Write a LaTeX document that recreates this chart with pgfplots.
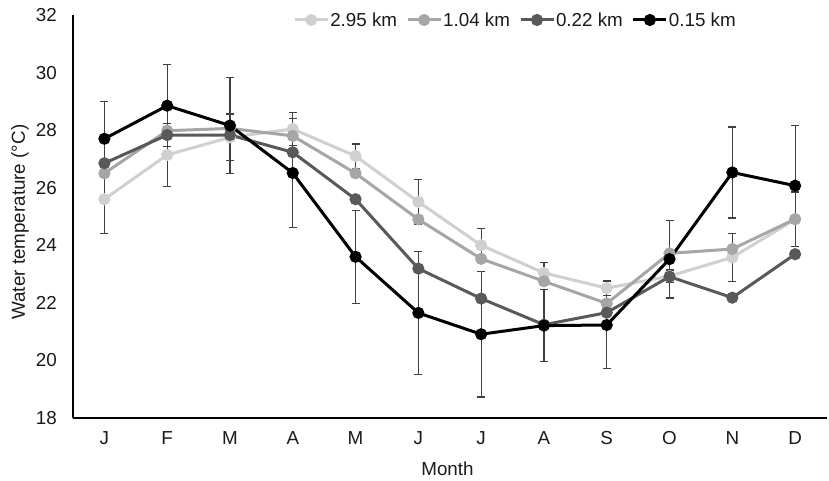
\documentclass[border=0pt]{standalone}
\usepackage{fontspec}
\setmainfont{Liberation Sans}
\usepackage{pgfplots}
\pgfplotsset{compat=1.18}
\definecolor{cA}{HTML}{D0D0D0}
\definecolor{cB}{HTML}{A6A6A6}
\definecolor{cC}{HTML}{595959}
\definecolor{cD}{HTML}{000000}
\definecolor{errc}{HTML}{404040}
\definecolor{txt}{HTML}{1A1A1A}
\newcommand{\ff}{\fontsize{18.8}{22}\selectfont}
\begin{document}
\begin{tikzpicture}
\begin{axis}[
  scale only axis, width=753.5pt, height=403pt,
  xmin=-0.5, xmax=11.5, ymin=18, ymax=32,
  axis x line*=bottom, axis y line*=left,
  axis line style={black, line width=1.2pt},
  xtick={0,...,11},
  xticklabels={J,F,M,A,M,J,J,A,S,O,N,D},
  ytick={18,20,...,32},
  major tick length=0pt,
  /pgf/number format/assume math mode=true,
  tick label style={font=\ff, text=txt},
  yticklabel style={inner sep=0pt, xshift=-16pt},
  xticklabel style={inner sep=0pt, yshift=-13pt},
  xlabel={Month},
  ylabel={Water temperature (°C)},
  label style={font=\ff, text=txt},
  xlabel style={at={(axis description cs:0.497,-0.1084)}, anchor=north, inner sep=0pt},
  ylabel style={at={(axis description cs:-0.0584,0.486)}, anchor=south, inner sep=0pt},
  legend style={at={(axis description cs:0.5866,0.9876)}, anchor=center, draw=none, fill=none,
    font=\ff, text=txt, legend columns=4, nodes={inner sep=1pt},
    /tikz/every even column/.append style={column sep=8pt}},
  legend cell align=left,
  legend image code/.code={\draw[mark repeat=2,mark phase=2,#1] plot coordinates {(0pt,0pt) (16.5pt,0pt) (33pt,0pt)};},
  every axis plot/.append style={line width=3pt, mark=*, mark size=4.5pt, mark options={solid}},
]
\addplot[color=cA, mark options={fill=cA, draw=cA},
  error bars/.cd, y dir=both, y explicit,
  error bar style={errc, line width=1.2pt},
  error mark options={errc, rotate=90, mark size=4pt, line width=1.2pt}]
  table[x=x, y=y, y error=e] {
x y e
0 25.6 1.2
1 27.14 1.1
2 27.75 0.81
3 28.04 0.58
4 27.1 0.42
5 25.51 0.77
6 24.0 0.58
7 23.04 0.35
8 22.51 0.26
9 22.93 0.21
10 23.58 0.84
11 24.9 0.95
};
\addlegendentry{2.95 km}
\addplot[color=cB, mark options={fill=cB, draw=cB}] table[x=x, y=y] {
x y
0 26.5
1 27.98
2 28.06
3 27.8
4 26.5
5 24.9
6 23.53
7 22.75
8 21.98
9 23.72
10 23.87
11 24.91
};
\addlegendentry{1.04 km}
\addplot[color=cC, mark options={fill=cC, draw=cC}] table[x=x, y=y] {
x y
0 26.85
1 27.83
2 27.83
3 27.23
4 25.6
5 23.19
6 22.15
7 21.24
8 21.66
9 22.91
10 22.18
11 23.69
};
\addlegendentry{0.22 km}
\addplot[color=cD, mark options={fill=cD, draw=cD},
  error bars/.cd, y dir=both, y explicit,
  error bar style={errc, line width=1.2pt},
  error mark options={errc, rotate=90, mark size=4pt, line width=1.2pt}]
  table[x=x, y=y, y error=e] {
x y e
0 27.7 1.3
1 28.85 1.42
2 28.16 1.68
3 26.51 1.9
4 23.6 1.62
5 21.65 2.13
6 20.91 2.18
7 21.21 1.25
8 21.23 1.52
9 23.52 1.35
10 26.53 1.58
11 26.07 2.1
};
\addlegendentry{0.15 km}
\end{axis}
\pgfresetboundingbox
\path[use as bounding box] (-73pt,-63pt) rectangle (756pt,418pt);
\end{tikzpicture}
\end{document}
